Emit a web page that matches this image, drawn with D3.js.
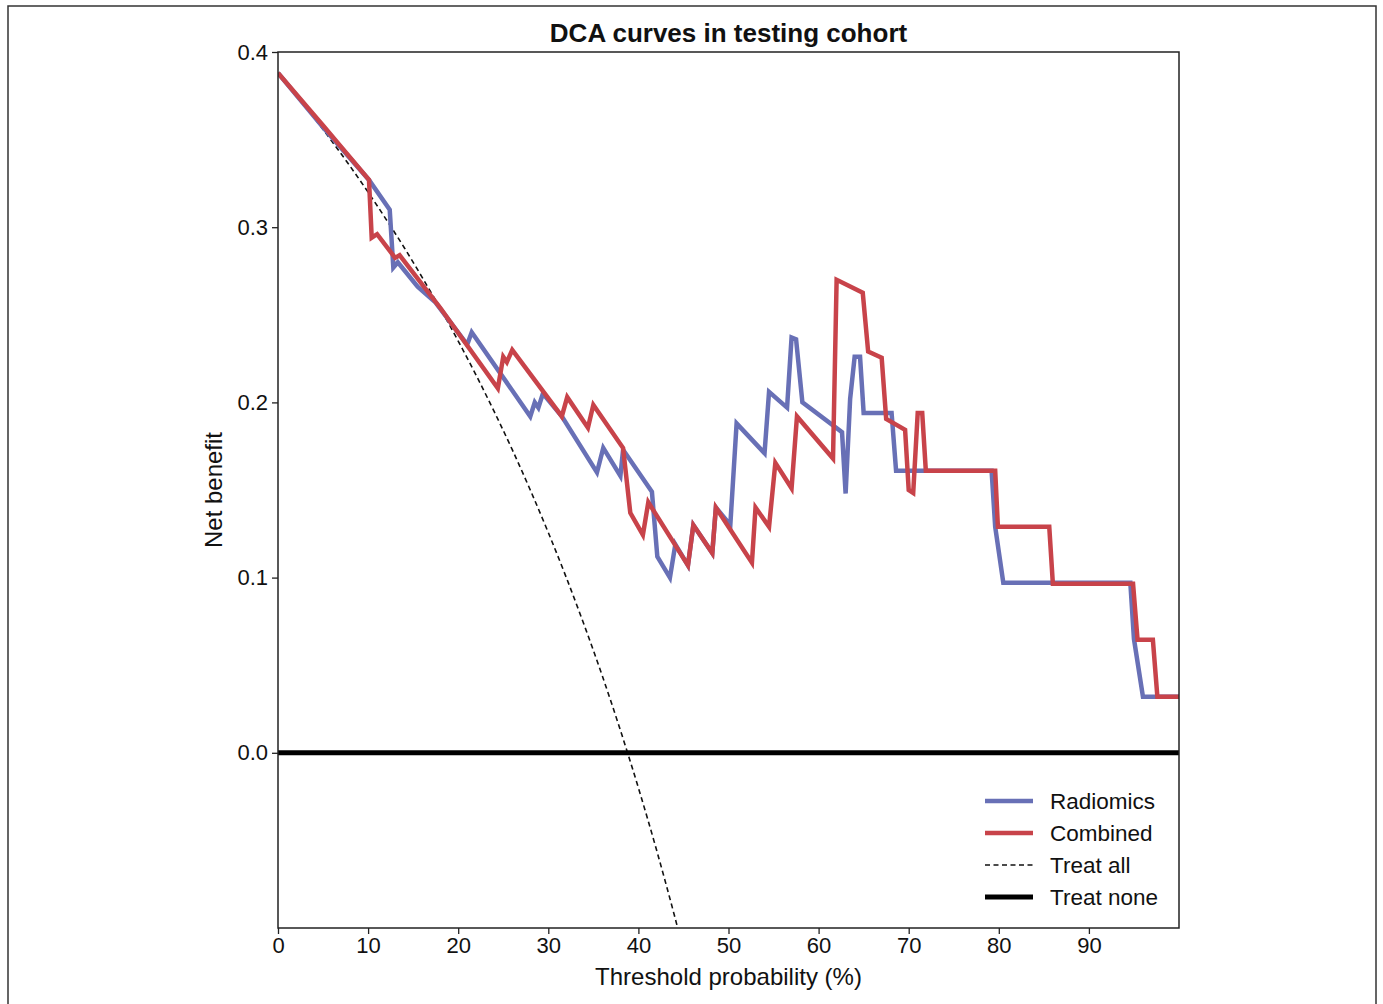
<!DOCTYPE html>
<html>
<head>
<meta charset="utf-8">
<script src="https://cdn.jsdelivr.net/npm/d3@7"></script>
<style>
	body { margin: 0; background: #fff; }
	text { font-family: "Liberation Sans", Arial, sans-serif; fill: #111; }
</style>
</head>
<body>
<svg id="dca-plot" width="1383" height="1004" viewBox="0 0 1383 1004"></svg>
<script>

// threshold probability (%) and net benefit
const RADIOMICS_X = [0, 5, 10.1, 12.4, 12.8, 13.3, 15.5, 17.5, 21.0, 21.5, 28.0, 28.5, 28.9, 29.4, 31.5, 35.4, 36.1, 38.0, 38.3, 41.5, 42.1, 43.5, 44.1, 45.5, 46.1, 48.2, 48.6, 50.2, 50.9, 54.0, 54.5, 56.5, 57.0, 57.5, 58.2, 62.6, 63.0, 63.5, 64.0, 64.6, 65.0, 68.1, 68.6, 79.2, 79.6, 80.5, 94.6, 95.0, 96.0, 100];
const RADIOMICS_NB = [0.388, 0.357, 0.327, 0.310, 0.277, 0.280, 0.266, 0.257, 0.233, 0.240, 0.192, 0.200, 0.197, 0.205, 0.192, 0.160, 0.174, 0.158, 0.173, 0.149, 0.112, 0.100, 0.119, 0.107, 0.130, 0.114, 0.140, 0.130, 0.188, 0.171, 0.206, 0.197, 0.237, 0.236, 0.200, 0.183, 0.148, 0.202, 0.226, 0.226, 0.194, 0.194, 0.161, 0.161, 0.129, 0.097, 0.097, 0.065, 0.032, 0.032];

const COMBINED_X = [0, 5, 10.1, 10.4, 11.0, 13.0, 13.5, 18.0, 24.4, 25.0, 25.4, 26.0, 31.5, 32.1, 34.4, 35.0, 38.3, 39.1, 40.5, 41.1, 45.5, 46.1, 48.2, 48.6, 52.6, 53.0, 54.5, 55.2, 57.0, 57.6, 61.6, 62.0, 64.9, 65.5, 67.0, 67.5, 69.6, 70.0, 70.5, 71.0, 71.5, 71.9, 79.6, 79.9, 85.6, 86.0, 94.9, 95.4, 97.1, 97.6, 100];
const COMBINED_NB = [0.388, 0.358, 0.327, 0.294, 0.296, 0.2825, 0.284, 0.254, 0.208, 0.226, 0.223, 0.230, 0.192, 0.203, 0.1855, 0.1986, 0.174, 0.137, 0.1244, 0.143, 0.107, 0.130, 0.114, 0.140, 0.1085, 0.140, 0.129, 0.1655, 0.151, 0.192, 0.168, 0.270, 0.2626, 0.229, 0.2255, 0.1906, 0.1844, 0.150, 0.1483, 0.194, 0.194, 0.161, 0.161, 0.129, 0.129, 0.0965, 0.0965, 0.0645, 0.0645, 0.032, 0.032];

const TREAT_ALL_X = [0, 2, 4, 6, 8, 10, 12, 14, 16, 18, 20, 22, 24, 26, 28, 30, 32, 34, 36, 38, 40, 42, 44, 45];
const TREAT_ALL_NB = [0.388, 0.3755, 0.3625, 0.3489, 0.3348, 0.320, 0.3045, 0.2884, 0.2714, 0.2537, 0.235, 0.2154, 0.1947, 0.1730, 0.150, 0.1257, 0.100, 0.0727, 0.0438, 0.0129, -0.020, -0.0552, -0.0929, -0.1127];

const TREAT_NONE_X = [0, 100];
const TREAT_NONE_NB = [0, 0];

const X_TICKS = [0, 10, 20, 30, 40, 50, 60, 70, 80, 90];
const Y_TICKS = [0.0, 0.1, 0.2, 0.3, 0.4];

const LEGEND_LABELS = ['Radiomics', 'Combined', 'Treat all', 'Treat none'];

const BLUE = '#6870b6';
const RED = '#c8434a';

const svg = d3.select('#dca-plot');
const margin = {left: 278, top: 52, right: 204, bottom: 76};
const width = 1383 - margin.left - margin.right;
const height = 1004 - margin.top - margin.bottom;

// figure frame
svg.append('rect')
	.attr('x', 8).attr('y', 6)
	.attr('width', 1368).attr('height', 1010)
	.attr('fill', 'none')
	.attr('stroke', '#333')
	.attr('stroke-width', 1.5);

const x = d3.scaleLinear().domain([0, 100]).range([0, width]);
const y = d3.scaleLinear().domain([-0.1, 0.4]).range([height, 0]);

const g = svg.append('g').attr('transform', `translate(${margin.left},${margin.top})`);

g.append('clipPath').attr('id', 'plot-clip')
	.append('rect').attr('width', width).attr('height', height);

const to_points = (xs, ys) => xs.map((v, i) => [v, ys[i]]);
const line = d3.line().x(d => x(d[0])).y(d => y(d[1]));
const smooth_line = d3.line().x(d => x(d[0])).y(d => y(d[1])).curve(d3.curveMonotoneX);

const plot = g.append('g').attr('clip-path', 'url(#plot-clip)');

plot.append('path')
	.datum(to_points(TREAT_ALL_X, TREAT_ALL_NB))
	.attr('d', smooth_line)
	.attr('fill', 'none')
	.attr('stroke', '#111')
	.attr('stroke-width', 1.6)
	.attr('stroke-dasharray', '5,3.5');

plot.append('path')
	.datum(to_points(TREAT_NONE_X, TREAT_NONE_NB))
	.attr('d', line)
	.attr('fill', 'none')
	.attr('stroke', '#000')
	.attr('stroke-width', 5);

plot.append('path')
	.datum(to_points(RADIOMICS_X, RADIOMICS_NB))
	.attr('d', line)
	.attr('fill', 'none')
	.attr('stroke', BLUE)
	.attr('stroke-width', 4.5)
	.attr('stroke-linejoin', 'miter');

plot.append('path')
	.datum(to_points(COMBINED_X, COMBINED_NB))
	.attr('d', line)
	.attr('fill', 'none')
	.attr('stroke', RED)
	.attr('stroke-width', 4.5)
	.attr('stroke-linejoin', 'miter');

// axes
const x_axis = g.append('g')
	.attr('transform', `translate(0,${height})`)
	.call(d3.axisBottom(x).tickValues(X_TICKS).tickSize(6).tickPadding(3).tickFormat(d3.format('d')));
const y_axis = g.append('g')
	.call(d3.axisLeft(y).tickValues(Y_TICKS).tickSize(6).tickPadding(4).tickFormat(d3.format('.1f')));

[x_axis, y_axis].forEach(ax => {
	ax.select('.domain').remove();
	ax.selectAll('line').attr('stroke', '#222').attr('stroke-width', 1.3);
	ax.selectAll('text').style('font-size', '22px').style('font-family', '"Liberation Sans", Arial, sans-serif').attr('fill', '#111');
});

// box around the plot
g.append('rect')
	.attr('width', width).attr('height', height)
	.attr('fill', 'none')
	.attr('stroke', '#222')
	.attr('stroke-width', 1.5);

svg.append('text')
	.attr('x', margin.left + width / 2).attr('y', 42)
	.attr('text-anchor', 'middle')
	.style('font-size', '26px').style('font-weight', 'bold')
	.text('DCA curves in testing cohort');

svg.append('text')
	.attr('x', margin.left + width / 2).attr('y', 985)
	.attr('text-anchor', 'middle')
	.style('font-size', '24px')
	.text('Threshold probability (%)');

svg.append('text')
	.attr('transform', `translate(222,${margin.top + height / 2}) rotate(-90)`)
	.attr('text-anchor', 'middle')
	.style('font-size', '24px')
	.text('Net benefit');

// legend
const legend_styles = [
	{stroke: BLUE, width: 4.5, dash: null},
	{stroke: RED, width: 4.5, dash: null},
	{stroke: '#111', width: 1.6, dash: '5,3.5'},
	{stroke: '#000', width: 5, dash: null}
];
const legend = svg.append('g').attr('transform', 'translate(985,801)');
LEGEND_LABELS.forEach((label, i) => {
	const row = legend.append('g').attr('transform', `translate(0,${i * 32})`);
	row.append('line')
		.attr('x1', 0).attr('x2', 48)
		.attr('stroke', legend_styles[i].stroke)
		.attr('stroke-width', legend_styles[i].width)
		.attr('stroke-dasharray', legend_styles[i].dash);
	row.append('text')
		.attr('x', 65).attr('y', 8)
		.style('font-size', '22.5px')
		.text(label);
});

</script>
</body>
</html>
